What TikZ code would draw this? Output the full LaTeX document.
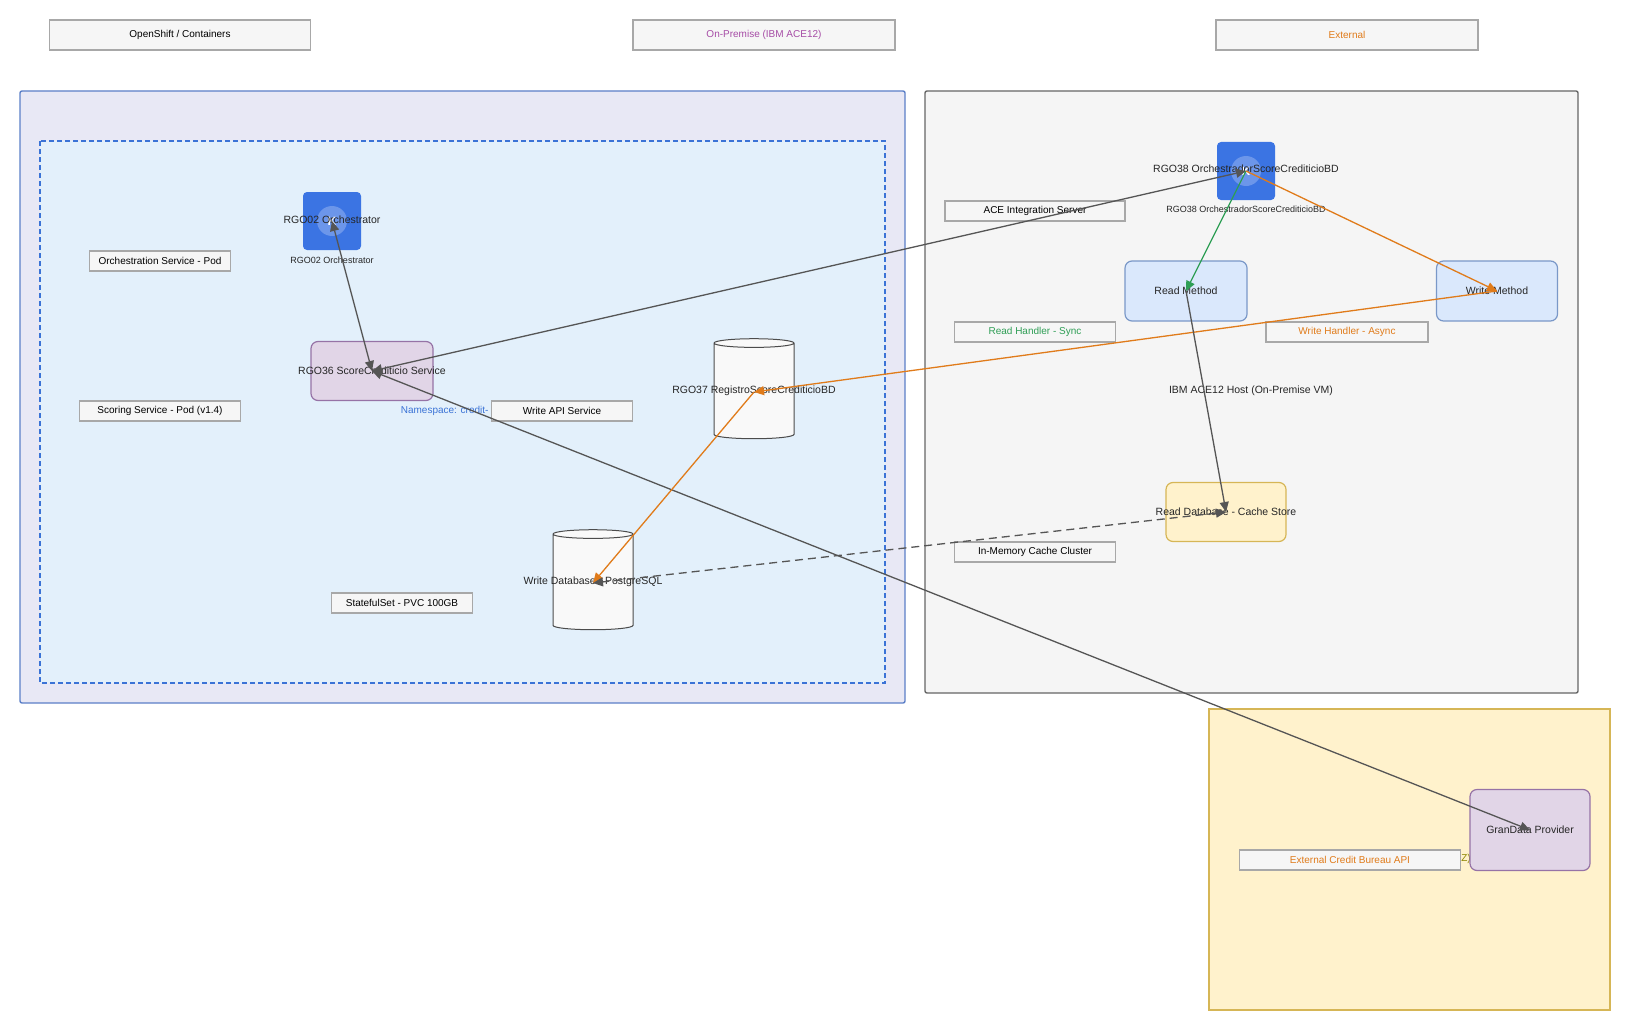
\documentclass[tikz,border=0pt]{standalone}
\usepackage{fontspec}
\setmainfont{Liberation Sans}
\usetikzlibrary{shapes.geometric}
\usetikzlibrary{arrows.meta}
\definecolor{lineg}{HTML}{555555}
\definecolor{orng}{HTML}{E07B1A}
\definecolor{grn}{HTML}{2E9E55}
\definecolor{nsblue}{HTML}{3B73D6}
\definecolor{iconblue}{HTML}{3B74E3}
\definecolor{tagline}{HTML}{A8A8A8}
\definecolor{violline}{HTML}{9673A6}
\definecolor{blueline}{HTML}{7A98C8}
\definecolor{yelline}{HTML}{D6B656}

\begin{document}
\begin{tikzpicture}[x=1pt, y=-1pt,
    tag/.style = {draw=tagline, fill=gray!7, line width=1.5pt, minimum height=20pt, font=\fontsize{10}{11}\selectfont},
    svc/.style = {draw=#1, rounded corners=7pt, line width=1.2pt},
    cyl/.style = {cylinder, shape border rotate=90, draw=black!70, line width=1pt, fill=gray!5, aspect=1.3, minimum width=80pt, minimum height=100pt},
    icon/.style = {fill=iconblue, rounded corners=4pt, minimum size=58pt},
    lbl/.style = {font=\fontsize{10.5}{12}\selectfont, text=black!85},
    small/.style = {font=\fontsize{9}{10}\selectfont, text=black!85},
    con/.style = {lineg, line width=1.3pt, -{Triangle[length=10pt,width=9pt]}},
    both/.style = {con, {Triangle[length=10pt,width=9pt]}-{Triangle[length=10pt,width=9pt]}}]
  \useasboundingbox (0,0) rectangle (1630,1030);

  % headers
  \node[tag, minimum width=261pt, minimum height=30pt] (hos) at (180,35) {OpenShift / Containers};
  \node[tag, minimum width=262pt, minimum height=30pt, text=violet!70] (hon) at (764,35) {On-Premise (IBM ACE12)};
  \node[tag, minimum width=262pt, minimum height=30pt, text=orng] (hext) at (1347,35) {External};

  % zones
  \draw[fill={rgb,255:red,232;green,232;blue,245}, draw={rgb,255:red,91;green,127;blue,199}, line width=1.4pt, rounded corners=2pt] (20,91) rectangle (905,703);
  \draw[fill={rgb,255:red,227;green,240;blue,251}, draw=nsblue, dash pattern=on 5pt off 3pt, line width=1.2pt] (40,141) rectangle (885,683);
  \draw[fill=gray!8, draw=black!60, line width=1.4pt, rounded corners=2pt] (925,91) rectangle (1578,693);
  \draw[fill={rgb,255:red,255;green,242;blue,204}, draw=yelline, line width=1.4pt] (1209,709) rectangle (1610,1010);

  % openshift side
  \node[icon] (rgo02) at (332,221) {};
  \fill[white, opacity=0.25] (rgo02.center) circle (15pt);
  \node[white, font=\bfseries\large] at (rgo02.center) {K};
  \node[lbl] (rgo02t) at (332,220) {RGO02 Orchestrator};
  \node[small] (rgo02b) at (332,260) {RGO02 Orchestrator};
  \node[tag, minimum width=141pt] (orch) at (160,261) {Orchestration Service - Pod};
  \node[svc=violline, fill={rgb,255:red,225;green,213;blue,231}, minimum width=122pt, minimum height=59pt] (rgo36) at (372,371) {};
  \node[lbl] at (rgo36.center) {RGO36 ScoreCrediticio Service};
  \node[tag, minimum width=161pt] (scor) at (160,411) {Scoring Service - Pod (v1.4)};
  \node[text=nsblue, font=\fontsize{10}{11}\selectfont, anchor=east] (ns) at (492,411) {Namespace: credit-};
  \node[tag, minimum width=141pt] (wapi) at (562,411) {Write API Service};
  \node[cyl] (rgo37) at (754,392) {};
  \node[lbl] at (754,391) {RGO37 RegistroScoreCrediticioBD};
  \node[cyl] (wdb) at (593,583) {};
  \node[lbl] at (593,582) {Write Database - PostgreSQL};
  \node[tag, minimum width=141pt] (sts) at (402,603) {StatefulSet - PVC 100GB};

  % on-premise side
  \node[tag, minimum width=180pt] (ace) at (1035,211) {ACE Integration Server};
  \node[icon] (rgo38) at (1246,171) {};
  \fill[white, opacity=0.25] (rgo38.center) circle (15pt);
  \node[white, font=\bfseries\large] at (rgo38.center) {K};
  \node[lbl] at (1246,169) {RGO38 OrchestradorScoreCrediticioBD};
  \node[small] at (1246,209) {RGO38 OrchestradorScoreCrediticioBD};
  \node[svc=blueline, fill={rgb,255:red,218;green,232;blue,252}, minimum width=122pt, minimum height=60pt] (rmeth) at (1186,291) {};
  \node[lbl] at (rmeth.center) {Read Method};
  \node[svc=blueline, fill={rgb,255:red,218;green,232;blue,252}, minimum width=121pt, minimum height=60pt] (wmeth) at (1497,291) {};
  \node[lbl] at (wmeth.center) {Write Method};
  \node[tag, minimum width=161pt, text=grn] (rh) at (1035,332) {Read Handler - Sync};
  \node[tag, minimum width=162pt, text=orng] (wh) at (1347,332) {Write Handler - Async};
  \node[lbl] (host) at (1251,391) {IBM ACE12 Host (On-Premise VM)};
  \node[svc=yelline, fill={rgb,255:red,255;green,242;blue,204}, minimum width=120pt, minimum height=59pt] (cache) at (1226,512) {};
  \node[lbl] at (cache.center) {Read Database - Cache Store};
  \node[tag, minimum width=161pt] (imc) at (1035,552) {In-Memory Cache Cluster};

  % external
  \node[text=olive, font=\fontsize{10}{11}\selectfont] (zz) at (1466,859) {Z)};
  \node[tag, minimum width=221pt, text=orng] (bur) at (1350,860) {External Credit Bureau API};
  \node[svc=violline, fill={rgb,255:red,225;green,213;blue,231}, minimum width=120pt, minimum height=81pt] (gran) at (1530,830) {};
  \node[lbl] at (gran.center) {GranData Provider};

  % connectors
  \draw[both] (rgo02.center) -- (rgo36.center);
  \draw[both] (rgo38.center) -- (rgo36.center);
  \draw[both] (rgo36.center) -- (gran.center);
  \draw[con, grn] (rgo38.center) -- (rmeth.center);
  \draw[con, orng] (rgo38.center) -- (wmeth.center);
  \draw[con, orng] (wmeth.center) -- (rgo37.center);
  \draw[con, orng] (rgo37.center) -- (wdb.center);
  \draw[con] (rmeth.center) -- (cache.center);
  \draw[both, dash pattern=on 8pt off 5pt] (cache.center) -- (wdb.center);
\end{tikzpicture}
\end{document}
